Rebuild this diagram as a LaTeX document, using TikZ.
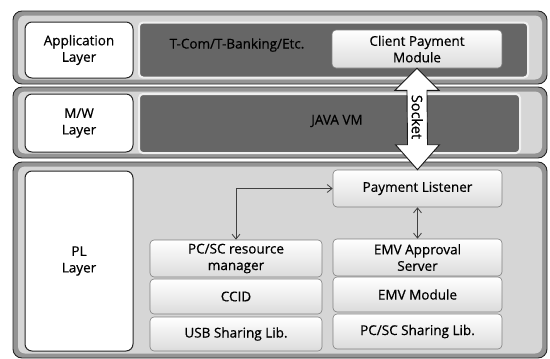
\documentclass[tikz,border=0pt]{standalone}
\usepackage{fontspec}
\setmainfont{Open Sans}[FakeBold=0.6]
\usetikzlibrary{arrows.meta,calc}
\begin{document}
\begin{tikzpicture}[x=1pt,y=-1pt,
  font=\fontsize{13.5}{16.5}\selectfont,
  layer/.style={draw=black!85, line width=0.9pt, rounded corners=9pt, fill=black!42, inner sep=0pt},
  layerin/.style={rounded corners=7pt, fill=black!16, inner sep=0pt},
  lbl/.style={draw=black!85, line width=1pt, rounded corners=7pt, fill=white, inner sep=0pt, align=center},
  darkbox/.style={draw=black!6, line width=2pt, rounded corners=4pt, fill=black!60, inner sep=0pt},
  comp/.style={draw=black!50, line width=0.6pt, rounded corners=4pt, top color=white, bottom color=black!14, inner sep=0pt, align=center},
  conn/.style={draw=black!75, line width=0.8pt, {Straight Barb[length=5pt,width=8pt]}-{Straight Barb[length=5pt,width=8pt]}},
  blockarrow/.style={draw=black!90, line width=0.9pt, fill=white, line join=miter}]
\useasboundingbox (0,0) rectangle (550,359);
% layers
\node[layer, minimum width=534pt, minimum height=73pt] (applayer) at (280,47.5) {};
\node[layerin, minimum width=524pt, minimum height=64pt] (appin) at (280,47.5) {};
\node[layer, minimum width=534pt, minimum height=71pt] (mwlayer) at (280,122.5) {};
\node[layerin, minimum width=524pt, minimum height=62pt] (mwin) at (280,122.5) {};
\node[layer, minimum width=534pt, minimum height=196pt] (pllayer) at (280,260) {};
\node[layerin, minimum width=524pt, minimum height=187pt] (plin) at (280,260) {};
% layer labels
\node[lbl, minimum width=108pt, minimum height=56pt] (applbl) at (79,50) {Application\\Layer};
\node[lbl, minimum width=108pt, minimum height=58pt] (mwlbl) at (79,123) {M/W\\Layer};
\node[lbl, minimum width=108pt, minimum height=180pt] (pllbl) at (79,261) {PL\\Layer};
% dark boxes
\node[darkbox, minimum width=389pt, minimum height=55pt] (tcom) at (333.5,50) {};
\node (tcomtxt) at (237,45) {T-Com/T-Banking/Etc.};
\node[darkbox, minimum width=381pt, minimum height=59pt] (jvm) at (329.5,123.5) {};
\node (jvmtxt) at (337,121) {JAVA VM};
% components
\node[comp, minimum width=170pt, minimum height=38pt] (cpm) at (417,49) {Client Payment\\Module};
\node[comp, minimum width=169pt, minimum height=37pt] (plst) at (417.5,188.5) {Payment Listener};
\node[comp, minimum width=172pt, minimum height=37pt] (rm) at (236,258.5) {PC/SC resource\\manager};
\node[comp, minimum width=172pt, minimum height=35pt] (ccid) at (236,296.5) {CCID};
\node[comp, minimum width=172pt, minimum height=34pt] (usb) at (236,334) {USB Sharing Lib.};
\node[comp, minimum width=169pt, minimum height=37pt] (emva) at (417.5,257.5) {EMV Approval\\Server};
\node[comp, minimum width=169pt, minimum height=35pt] (emvm) at (417.5,294.5) {EMV Module};
\node[comp, minimum width=169pt, minimum height=35pt] (pcsc) at (417.5,331.5) {PC/SC Sharing Lib.};
% socket block arrow
\draw[blockarrow] (cpm.south)
  -- ($(cpm.south)+(22,22)$) -- ($(cpm.south)+(10,22)$)
  -- ($(plst.north)+(10,-25)$) -- ($(plst.north)+(22,-25)$)
  -- (plst.north)
  -- ($(plst.north)+(-22,-25)$) -- ($(plst.north)+(-10,-25)$)
  -- ($(cpm.south)+(-10,22)$) -- ($(cpm.south)+(-22,22)$) -- cycle;
\node[rotate=-90, font=\fontsize{14.5}{16}\selectfont] (socket) at ($(cpm.south)!0.48!(plst.north)$) {Socket};
% connectors
\draw[conn] (rm.north) |- (plst.west);
\draw[conn] (plst.south) -- (emva.north);
\end{tikzpicture}
\end{document}
